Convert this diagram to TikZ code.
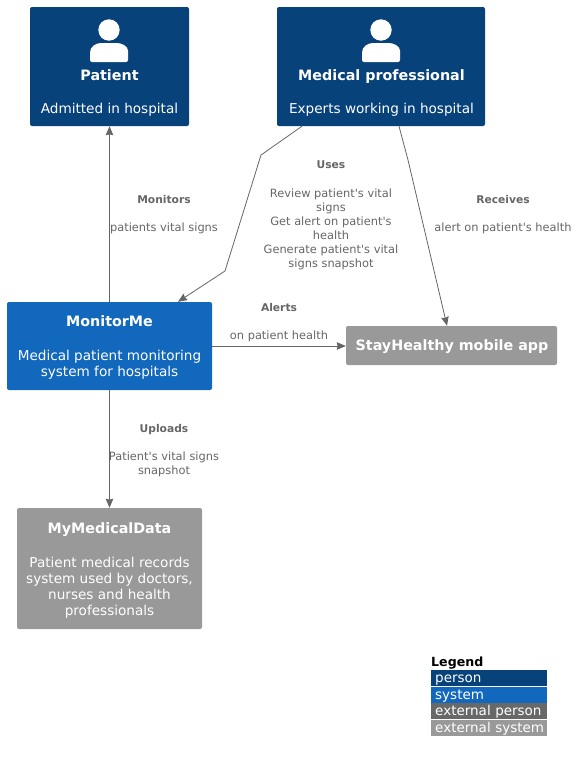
\documentclass[tikz,border=0pt]{standalone}
\usepackage{fontspec}
\setmainfont{DejaVu Sans}[Ligatures=TeXOff]
\usetikzlibrary{arrows.meta,calc,positioning}
\definecolor{personblue}{HTML}{08427B}
\definecolor{systemblue}{HTML}{1168BD}
\definecolor{extperson}{HTML}{686868}
\definecolor{extsystem}{HTML}{999999}
\definecolor{linkgrey}{HTML}{666666}
\newcommand{\boxtitle}[1]{\textbf{\fontsize{14.3}{16}\selectfont #1}}
\newcommand{\linktitle}[1]{\textbf{\fontsize{10.7}{14}\selectfont #1}}
\tikzset{
  box/.style={rounded corners=2pt, inner sep=0pt},
  personbox/.style={box, fill=personblue, minimum width=159pt, minimum height=119pt},
  boxtext/.style={text=white, align=center, font=\fontsize{13.6}{16}\selectfont, inner sep=0pt},
  link/.style={->, draw=linkgrey, line width=0.8pt},
  linklabel/.style={text=linkgrey, align=center, font=\fontsize{11.4}{14}\selectfont, inner sep=0pt},
  legendrow/.style={text=white, anchor=west, inner sep=0pt, inner xsep=4pt, minimum height=16pt, text width=108pt, text height=10pt, text depth=1.5pt, font=\fontsize{13.5}{14}\selectfont},
  personicon/.pic={
    \fill[white] (0,-36.5) circle (10.7pt);
    \fill[white, rounded corners=2pt] (-19,-14) -- (-19,-4.5) -- (19,-4.5) -- (19,-14) [sharp corners] .. controls (19,-20) and (13,-23.5) .. (8,-23.5) -- (-8,-23.5) .. controls (-13,-23.5) and (-19,-20) .. (-19,-14) -- cycle;
  }
}
\begin{document}
\begin{tikzpicture}[x=1pt, y=-1pt]
\tikzset{>={Stealth[length=9pt,width=7.5pt,inset=0.8pt]}}
  \useasboundingbox (0,0) rectangle (577,761);

  % people
  \node[personbox] (patient) at (109.5,66.5) {};
  \pic at (109,66.5) {personicon};
  \node[boxtext] (patienttext) at (109.5,92.5) {\boxtitle{Patient}\\[17pt]Admitted in hospital};

  \node[personbox, minimum width=208pt] (medical) at (381,66.5) {};
  \pic at (381,66.5) {personicon};
  \node[boxtext] (medicaltext) at (381.5,92.5) {\boxtitle{Medical professional}\\[17pt]Experts working in hospital};

  % systems
  \node[box, fill=systemblue, minimum width=205pt, minimum height=88pt] (monitorme) at (109.5,346) {};
  \node[boxtext] (monitormetext) at (109.5,347) {\boxtitle{MonitorMe}\\[18pt]Medical patient monitoring\\system for hospitals};
  \node[box, fill=extsystem, minimum width=211pt, minimum height=39pt] (stayhealthy) at (451.5,345.5) {};
  \node[boxtext] (stayhealthytext) at (452,346.5) {\boxtitle{StayHealthy mobile app}};
  \node[box, fill=extsystem, minimum width=185pt, minimum height=121pt] (mymedical) at (109.5,568.5) {};
  \node[boxtext] (mymedicaltext) at (109.5,570) {\boxtitle{MyMedicalData}\\[18pt]Patient medical records\\system used by doctors,\\nurses and health\\professionals};

  % links
  \coordinate (usesa) at (261,155);
  \coordinate (usesb) at (225,271);
  \coordinate (receivesa) at (408,160);
  \draw[link] (monitorme.north) -- (patient.south);
  \draw[link] ($(medical.south)+(-79,0)$) -- (usesa) -- (usesb) -- ($(monitorme.north)+(68.5,0)$);
  \draw[link] ($(medical.south)+(18,0)$) -- (receivesa) -- ($(stayhealthy.north)+(-4.5,0)$);
  \draw[link] (monitorme.east) -- (monitorme.east -| stayhealthy.west);
  \draw[link] (monitorme.south) -- (mymedical.north);

  \node[linklabel] (monitorslabel) at (164,215) {\linktitle{Monitors}\\[14pt]patients vital signs};
  \node[linklabel] (useslabel) at (331,215.5) {\linktitle{Uses}\\[15pt]Review patient's vital\\signs\\Get alert on patient's\\health\\Generate patient's vital\\signs snapshot};
  \node[linklabel] (receiveslabel) at (503,215) {\linktitle{Receives}\\[14pt]alert on patient's health};
  \node[linklabel] (alertslabel) at (279,323) {\linktitle{Alerts}\\[14pt]on patient health};
  \node[linklabel] (uploadslabel) at (164,450.5) {\linktitle{Uploads}\\[14pt]Patient's vital signs\\snapshot};

  % legend
  \node[anchor=west, inner sep=0pt, font=\bfseries\fontsize{12.6}{14}\selectfont] (legendtitle) at (431,663) {Legend};
  \node[legendrow, fill=personblue] (legendperson) at (431,678) {person};
  \node[legendrow, fill=systemblue] (legendsystem) at (431,695) {system};
  \node[legendrow, fill=extperson] (legendextperson) at (431,711) {\mbox{external person}};
  \node[legendrow, fill=extsystem] (legendextsystem) at (431,728) {\mbox{external system}};
\end{tikzpicture}
\end{document}
